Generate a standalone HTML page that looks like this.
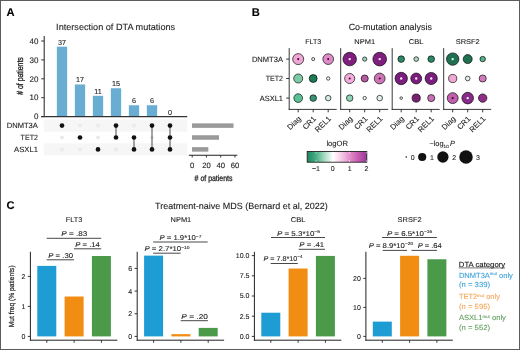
<!DOCTYPE html>
<html><head><meta charset="utf-8"><style>
html,body{margin:0;padding:0;background:#fff;}
#fig{position:relative;width:520px;height:350px;overflow:hidden;filter:blur(0.3px);}
svg{display:block;font-family:"Liberation Sans", sans-serif;text-rendering:geometricPrecision;}
text{stroke-width:0.1px;}
</style></head><body><div id="fig">
<svg width="520" height="350" viewBox="0 0 520 350">
<rect x="0" y="0" width="520" height="350" fill="#fff"/>
<text x="6.6" y="16.3" font-size="11.2" text-anchor="start" fill="#000" stroke="#000" font-weight="bold">A</text>
<text x="251.8" y="16.2" font-size="11.2" text-anchor="start" fill="#000" stroke="#000" font-weight="bold">B</text>
<text x="6.4" y="208.6" font-size="11.2" text-anchor="start" fill="#000" stroke="#000" font-weight="bold">C</text>
<text x="56.1" y="30.4" font-size="9" text-anchor="start" fill="#222" stroke="#222" textLength="119" lengthAdjust="spacingAndGlyphs">Intersection of DTA mutations</text>
<line x1="44.2" y1="36.0" x2="44.2" y2="116.8" stroke="#333" stroke-width="1.1"/>
<line x1="41.2" y1="116.6" x2="44.2" y2="116.6" stroke="#333" stroke-width="1"/>
<text x="38.4" y="119.3" font-size="8" text-anchor="end" fill="#222" stroke="#222">0</text>
<line x1="41.2" y1="97.69999999999999" x2="44.2" y2="97.69999999999999" stroke="#333" stroke-width="1"/>
<text x="38.4" y="100.39999999999999" font-size="8" text-anchor="end" fill="#222" stroke="#222">10</text>
<line x1="41.2" y1="78.8" x2="44.2" y2="78.8" stroke="#333" stroke-width="1"/>
<text x="38.4" y="81.5" font-size="8" text-anchor="end" fill="#222" stroke="#222">20</text>
<line x1="41.2" y1="59.9" x2="44.2" y2="59.9" stroke="#333" stroke-width="1"/>
<text x="38.4" y="62.6" font-size="8" text-anchor="end" fill="#222" stroke="#222">30</text>
<line x1="41.2" y1="41.0" x2="44.2" y2="41.0" stroke="#333" stroke-width="1"/>
<text x="38.4" y="43.7" font-size="8" text-anchor="end" fill="#222" stroke="#222">40</text>
<text transform="translate(23.0,76.0) rotate(-90)" font-size="9" text-anchor="middle" fill="#222" stroke="#222" textLength="37.6" lengthAdjust="spacingAndGlyphs" style="stroke-width:0.3px">#&#160;of patients</text>
<rect x="56.85" y="46.67" width="10.3" height="69.92999999999999" fill="#69ADD3"/>
<text x="62" y="44.67" font-size="7.2" text-anchor="middle" fill="#222" stroke="#222">37</text>
<rect x="74.85" y="84.47" width="10.3" height="32.129999999999995" fill="#69ADD3"/>
<text x="80" y="82.47" font-size="7.2" text-anchor="middle" fill="#222" stroke="#222">17</text>
<rect x="92.85" y="95.81" width="10.3" height="20.79" fill="#69ADD3"/>
<text x="98" y="93.81" font-size="7.2" text-anchor="middle" fill="#222" stroke="#222">11</text>
<rect x="110.85" y="88.25" width="10.3" height="28.349999999999998" fill="#69ADD3"/>
<text x="116" y="86.25" font-size="7.2" text-anchor="middle" fill="#222" stroke="#222">15</text>
<rect x="128.85" y="105.25999999999999" width="10.3" height="11.34" fill="#69ADD3"/>
<text x="134" y="103.25999999999999" font-size="7.2" text-anchor="middle" fill="#222" stroke="#222">6</text>
<rect x="146.85" y="105.25999999999999" width="10.3" height="11.34" fill="#69ADD3"/>
<text x="152" y="103.25999999999999" font-size="7.2" text-anchor="middle" fill="#222" stroke="#222">6</text>
<text x="170" y="114.6" font-size="7.2" text-anchor="middle" fill="#222" stroke="#222">0</text>
<line x1="41.2" y1="116.6" x2="187.2" y2="116.6" stroke="#333" stroke-width="1.3"/>
<rect x="43.8" y="119.6" width="143.4" height="12" fill="#F6F6F6"/>
<rect x="43.8" y="143.4" width="143.4" height="12" fill="#F6F6F6"/>
<text x="37.9" y="128.2" font-size="7.6" text-anchor="end" fill="#222" stroke="#222" textLength="31.2" lengthAdjust="spacingAndGlyphs">DNMT3A</text>
<text x="37.9" y="140.1" font-size="7.6" text-anchor="end" fill="#222" stroke="#222" textLength="17.3" lengthAdjust="spacingAndGlyphs">TET2</text>
<text x="37.9" y="152.0" font-size="7.6" text-anchor="end" fill="#222" stroke="#222" textLength="23.8" lengthAdjust="spacingAndGlyphs">ASXL1</text>
<circle cx="62" cy="137.5" r="2.0" fill="#EAEAEA" stroke="none" stroke-width="0"/>
<circle cx="62" cy="149.4" r="2.0" fill="#EAEAEA" stroke="none" stroke-width="0"/>
<circle cx="62" cy="125.6" r="2.35" fill="#111" stroke="none" stroke-width="0"/>
<circle cx="80" cy="125.6" r="2.0" fill="#EAEAEA" stroke="none" stroke-width="0"/>
<circle cx="80" cy="149.4" r="2.0" fill="#EAEAEA" stroke="none" stroke-width="0"/>
<circle cx="80" cy="137.5" r="2.35" fill="#111" stroke="none" stroke-width="0"/>
<circle cx="98" cy="125.6" r="2.0" fill="#EAEAEA" stroke="none" stroke-width="0"/>
<circle cx="98" cy="137.5" r="2.0" fill="#EAEAEA" stroke="none" stroke-width="0"/>
<circle cx="98" cy="149.4" r="2.35" fill="#111" stroke="none" stroke-width="0"/>
<circle cx="116" cy="149.4" r="2.0" fill="#EAEAEA" stroke="none" stroke-width="0"/>
<line x1="116" y1="125.6" x2="116" y2="137.5" stroke="#111" stroke-width="0.75"/>
<circle cx="116" cy="125.6" r="2.35" fill="#111" stroke="none" stroke-width="0"/>
<circle cx="116" cy="137.5" r="2.35" fill="#111" stroke="none" stroke-width="0"/>
<circle cx="134" cy="125.6" r="2.0" fill="#EAEAEA" stroke="none" stroke-width="0"/>
<line x1="134" y1="137.5" x2="134" y2="149.4" stroke="#111" stroke-width="0.75"/>
<circle cx="134" cy="137.5" r="2.35" fill="#111" stroke="none" stroke-width="0"/>
<circle cx="134" cy="149.4" r="2.35" fill="#111" stroke="none" stroke-width="0"/>
<circle cx="152" cy="137.5" r="2.0" fill="#EAEAEA" stroke="none" stroke-width="0"/>
<line x1="152" y1="125.6" x2="152" y2="149.4" stroke="#111" stroke-width="0.75"/>
<circle cx="152" cy="125.6" r="2.35" fill="#111" stroke="none" stroke-width="0"/>
<circle cx="152" cy="149.4" r="2.35" fill="#111" stroke="none" stroke-width="0"/>
<line x1="170" y1="125.6" x2="170" y2="149.4" stroke="#111" stroke-width="0.75"/>
<circle cx="170" cy="125.6" r="2.35" fill="#111" stroke="none" stroke-width="0"/>
<circle cx="170" cy="137.5" r="2.35" fill="#111" stroke="none" stroke-width="0"/>
<circle cx="170" cy="149.4" r="2.35" fill="#111" stroke="none" stroke-width="0"/>
<rect x="192.0" y="123.35" width="41.535" height="4.5" fill="#9A9A9A"/>
<rect x="192.0" y="135.25" width="26.979999999999997" height="4.5" fill="#9A9A9A"/>
<rect x="192.0" y="147.15" width="16.33" height="4.5" fill="#9A9A9A"/>
<line x1="188.8" y1="155.3" x2="237.3" y2="155.3" stroke="#222" stroke-width="1.1"/>
<line x1="192.2" y1="155.3" x2="192.2" y2="157.5" stroke="#222" stroke-width="0.9"/>
<text x="192.2" y="167.8" font-size="7.7" text-anchor="middle" fill="#222" stroke="#222">0</text>
<line x1="206.45" y1="155.3" x2="206.45" y2="157.5" stroke="#222" stroke-width="0.9"/>
<text x="206.45" y="167.8" font-size="7.7" text-anchor="middle" fill="#222" stroke="#222">20</text>
<line x1="220.7" y1="155.3" x2="220.7" y2="157.5" stroke="#222" stroke-width="0.9"/>
<text x="220.7" y="167.8" font-size="7.7" text-anchor="middle" fill="#222" stroke="#222">40</text>
<line x1="234.95" y1="155.3" x2="234.95" y2="157.5" stroke="#222" stroke-width="0.9"/>
<text x="234.95" y="167.8" font-size="7.7" text-anchor="middle" fill="#222" stroke="#222">60</text>
<text x="194.6" y="180.7" font-size="8.3" text-anchor="start" fill="#222" stroke="#222" textLength="37.9" lengthAdjust="spacingAndGlyphs" style="stroke-width:0.28px">#&#160;of patients</text>
<text x="348.7" y="30.4" font-size="9" text-anchor="start" fill="#222" stroke="#222" textLength="83.2" lengthAdjust="spacingAndGlyphs">Co-mutation analysis</text>
<text x="313.2" y="44.2" font-size="7" text-anchor="middle" fill="#222" stroke="#222" textLength="15.9" lengthAdjust="spacingAndGlyphs">FLT3</text>
<line x1="289.2" y1="48.1" x2="289.2" y2="109.9" stroke="#222" stroke-width="0.9"/>
<line x1="288.75" y1="109.4" x2="336.7" y2="109.4" stroke="#222" stroke-width="0.9"/>
<line x1="298.2" y1="109.4" x2="298.2" y2="112.3" stroke="#222" stroke-width="0.9"/>
<text transform="translate(301.4,119.3) rotate(-45)" font-size="7.6" text-anchor="end" fill="#222" stroke="#222">Diag</text>
<line x1="313.2" y1="109.4" x2="313.2" y2="112.3" stroke="#222" stroke-width="0.9"/>
<text transform="translate(316.4,119.3) rotate(-45)" font-size="7.6" text-anchor="end" fill="#222" stroke="#222">CR1</text>
<line x1="328.2" y1="109.4" x2="328.2" y2="112.3" stroke="#222" stroke-width="0.9"/>
<text transform="translate(331.4,119.3) rotate(-45)" font-size="7.6" text-anchor="end" fill="#222" stroke="#222">REL1</text>
<text x="364.7" y="44.2" font-size="7" text-anchor="middle" fill="#222" stroke="#222" textLength="20.7" lengthAdjust="spacingAndGlyphs">NPM1</text>
<line x1="340.7" y1="48.1" x2="340.7" y2="109.9" stroke="#222" stroke-width="0.9"/>
<line x1="340.25" y1="109.4" x2="388.2" y2="109.4" stroke="#222" stroke-width="0.9"/>
<line x1="349.7" y1="109.4" x2="349.7" y2="112.3" stroke="#222" stroke-width="0.9"/>
<text transform="translate(352.9,119.3) rotate(-45)" font-size="7.6" text-anchor="end" fill="#222" stroke="#222">Diag</text>
<line x1="364.7" y1="109.4" x2="364.7" y2="112.3" stroke="#222" stroke-width="0.9"/>
<text transform="translate(367.9,119.3) rotate(-45)" font-size="7.6" text-anchor="end" fill="#222" stroke="#222">CR1</text>
<line x1="379.7" y1="109.4" x2="379.7" y2="112.3" stroke="#222" stroke-width="0.9"/>
<text transform="translate(382.9,119.3) rotate(-45)" font-size="7.6" text-anchor="end" fill="#222" stroke="#222">REL1</text>
<text x="416.2" y="44.2" font-size="7" text-anchor="middle" fill="#222" stroke="#222" textLength="14.8" lengthAdjust="spacingAndGlyphs">CBL</text>
<line x1="392.2" y1="48.1" x2="392.2" y2="109.9" stroke="#222" stroke-width="0.9"/>
<line x1="391.75" y1="109.4" x2="439.7" y2="109.4" stroke="#222" stroke-width="0.9"/>
<line x1="401.2" y1="109.4" x2="401.2" y2="112.3" stroke="#222" stroke-width="0.9"/>
<text transform="translate(404.4,119.3) rotate(-45)" font-size="7.6" text-anchor="end" fill="#222" stroke="#222">Diag</text>
<line x1="416.2" y1="109.4" x2="416.2" y2="112.3" stroke="#222" stroke-width="0.9"/>
<text transform="translate(419.4,119.3) rotate(-45)" font-size="7.6" text-anchor="end" fill="#222" stroke="#222">CR1</text>
<line x1="431.2" y1="109.4" x2="431.2" y2="112.3" stroke="#222" stroke-width="0.9"/>
<text transform="translate(434.4,119.3) rotate(-45)" font-size="7.6" text-anchor="end" fill="#222" stroke="#222">REL1</text>
<text x="467.7" y="44.2" font-size="7" text-anchor="middle" fill="#222" stroke="#222" textLength="24" lengthAdjust="spacingAndGlyphs">SRSF2</text>
<line x1="443.7" y1="48.1" x2="443.7" y2="109.9" stroke="#222" stroke-width="0.9"/>
<line x1="443.25" y1="109.4" x2="491.2" y2="109.4" stroke="#222" stroke-width="0.9"/>
<line x1="452.7" y1="109.4" x2="452.7" y2="112.3" stroke="#222" stroke-width="0.9"/>
<text transform="translate(455.9,119.3) rotate(-45)" font-size="7.6" text-anchor="end" fill="#222" stroke="#222">Diag</text>
<line x1="467.7" y1="109.4" x2="467.7" y2="112.3" stroke="#222" stroke-width="0.9"/>
<text transform="translate(470.9,119.3) rotate(-45)" font-size="7.6" text-anchor="end" fill="#222" stroke="#222">CR1</text>
<line x1="482.7" y1="109.4" x2="482.7" y2="112.3" stroke="#222" stroke-width="0.9"/>
<text transform="translate(485.9,119.3) rotate(-45)" font-size="7.6" text-anchor="end" fill="#222" stroke="#222">REL1</text>
<line x1="286.2" y1="59.1" x2="289.2" y2="59.1" stroke="#222" stroke-width="0.9"/>
<text x="283.0" y="61.800000000000004" font-size="7.6" text-anchor="end" fill="#222" stroke="#222" textLength="31.1" lengthAdjust="spacingAndGlyphs">DNMT3A</text>
<line x1="286.2" y1="78.5" x2="289.2" y2="78.5" stroke="#222" stroke-width="0.9"/>
<text x="283.0" y="81.2" font-size="7.6" text-anchor="end" fill="#222" stroke="#222" textLength="17.3" lengthAdjust="spacingAndGlyphs">TET2</text>
<line x1="286.2" y1="98.1" x2="289.2" y2="98.1" stroke="#222" stroke-width="0.9"/>
<text x="283.0" y="100.8" font-size="7.6" text-anchor="end" fill="#222" stroke="#222" textLength="23.3" lengthAdjust="spacingAndGlyphs">ASXL1</text>
<circle cx="298.2" cy="59.1" r="5.5" fill="#EFA8D6" stroke="#000" stroke-opacity="0.72" stroke-width="0.9"/>
<circle cx="298.2" cy="59.1" r="1.05" fill="#4a0030" stroke="none" stroke-width="0"/>
<circle cx="313.2" cy="59.1" r="1.55" fill="#EEF6F2" stroke="#000" stroke-opacity="0.72" stroke-width="0.9"/>
<circle cx="328.2" cy="59.1" r="5.35" fill="#E08CC8" stroke="#000" stroke-opacity="0.72" stroke-width="0.9"/>
<circle cx="328.2" cy="59.1" r="1.05" fill="#4a0030" stroke="none" stroke-width="0"/>
<circle cx="298.2" cy="78.5" r="4.5" fill="#7DCBA5" stroke="#000" stroke-opacity="0.72" stroke-width="0.9"/>
<circle cx="313.2" cy="78.5" r="3.95" fill="#1F7A55" stroke="#000" stroke-opacity="0.72" stroke-width="0.9"/>
<circle cx="328.2" cy="78.5" r="1.7" fill="#F6FBF8" stroke="#000" stroke-opacity="0.72" stroke-width="0.9"/>
<circle cx="298.2" cy="98.1" r="4.35" fill="#5CC096" stroke="#000" stroke-opacity="0.72" stroke-width="0.9"/>
<circle cx="313.2" cy="98.1" r="3.3" fill="#389470" stroke="#000" stroke-opacity="0.72" stroke-width="0.9"/>
<circle cx="328.2" cy="98.1" r="2.75" fill="#D5EEE2" stroke="#000" stroke-opacity="0.72" stroke-width="0.9"/>
<circle cx="349.7" cy="59.1" r="6.75" fill="#7E1F7E" stroke="#000" stroke-opacity="0.72" stroke-width="0.9"/>
<circle cx="349.7" cy="59.1" r="1.2" fill="#FCE4F6" stroke="none" stroke-width="0"/>
<circle cx="364.7" cy="59.1" r="2.15" fill="#9CD2BA" stroke="#000" stroke-opacity="0.72" stroke-width="0.9"/>
<circle cx="379.7" cy="59.1" r="6.85" fill="#7E1F7E" stroke="#000" stroke-opacity="0.72" stroke-width="0.9"/>
<circle cx="379.7" cy="59.1" r="1.2" fill="#FCE4F6" stroke="none" stroke-width="0"/>
<circle cx="349.7" cy="78.5" r="5.05" fill="#F2AEDA" stroke="#000" stroke-opacity="0.72" stroke-width="0.9"/>
<circle cx="349.7" cy="78.5" r="1.05" fill="#4a0030" stroke="none" stroke-width="0"/>
<circle cx="364.7" cy="78.5" r="3.55" fill="#B45AA2" stroke="#000" stroke-opacity="0.72" stroke-width="0.9"/>
<circle cx="379.7" cy="78.5" r="5.3999999999999995" fill="#CC76B6" stroke="#000" stroke-opacity="0.72" stroke-width="0.9"/>
<circle cx="379.7" cy="78.5" r="1.05" fill="#4a0030" stroke="none" stroke-width="0"/>
<circle cx="349.7" cy="98.1" r="3.25" fill="#90D4B8" stroke="#000" stroke-opacity="0.72" stroke-width="0.9"/>
<circle cx="364.7" cy="98.1" r="1.7" fill="#F8FCFA" stroke="#000" stroke-opacity="0.72" stroke-width="0.9"/>
<circle cx="379.7" cy="98.1" r="2.8" fill="#E0F2EA" stroke="#000" stroke-opacity="0.72" stroke-width="0.9"/>
<circle cx="401.2" cy="59.1" r="3.3" fill="#2E8A66" stroke="#000" stroke-opacity="0.72" stroke-width="0.9"/>
<circle cx="416.2" cy="59.1" r="2.3499999999999996" fill="#A8D8C0" stroke="#000" stroke-opacity="0.72" stroke-width="0.9"/>
<circle cx="431.2" cy="59.1" r="3.3" fill="#2E8A66" stroke="#000" stroke-opacity="0.72" stroke-width="0.9"/>
<circle cx="401.2" cy="78.5" r="6.2" fill="#7A1E7E" stroke="#000" stroke-opacity="0.72" stroke-width="0.9"/>
<circle cx="401.2" cy="78.5" r="1.2" fill="#FCE4F6" stroke="none" stroke-width="0"/>
<circle cx="416.2" cy="78.5" r="5.45" fill="#7A1E7E" stroke="#000" stroke-opacity="0.72" stroke-width="0.9"/>
<circle cx="416.2" cy="78.5" r="1.2" fill="#FCE4F6" stroke="none" stroke-width="0"/>
<circle cx="431.2" cy="78.5" r="6.1" fill="#7A1E7E" stroke="#000" stroke-opacity="0.72" stroke-width="0.9"/>
<circle cx="431.2" cy="78.5" r="1.2" fill="#FCE4F6" stroke="none" stroke-width="0"/>
<circle cx="401.2" cy="98.1" r="1.3" fill="#F4FAF7" stroke="#000" stroke-opacity="0.72" stroke-width="0.9"/>
<circle cx="416.2" cy="98.1" r="4.1" fill="#7A2072" stroke="#000" stroke-opacity="0.72" stroke-width="0.9"/>
<circle cx="431.2" cy="98.1" r="3.55" fill="#C670B5" stroke="#000" stroke-opacity="0.72" stroke-width="0.9"/>
<circle cx="452.7" cy="59.1" r="6.2" fill="#1E7050" stroke="#000" stroke-opacity="0.72" stroke-width="0.9"/>
<circle cx="452.7" cy="59.1" r="1.2" fill="#D8FFF0" stroke="none" stroke-width="0"/>
<circle cx="467.7" cy="59.1" r="4.5" fill="#1E7050" stroke="#000" stroke-opacity="0.72" stroke-width="0.9"/>
<circle cx="482.7" cy="59.1" r="2.75" fill="#5BAE8A" stroke="#000" stroke-opacity="0.72" stroke-width="0.9"/>
<circle cx="452.7" cy="78.5" r="4.1" fill="#EFA8D6" stroke="#000" stroke-opacity="0.72" stroke-width="0.9"/>
<circle cx="467.7" cy="78.5" r="2.3499999999999996" fill="#E0F2E8" stroke="#000" stroke-opacity="0.72" stroke-width="0.9"/>
<circle cx="482.7" cy="78.5" r="3.55" fill="#D07CC0" stroke="#000" stroke-opacity="0.72" stroke-width="0.9"/>
<circle cx="452.7" cy="98.1" r="5.45" fill="#C060AC" stroke="#000" stroke-opacity="0.72" stroke-width="0.9"/>
<circle cx="452.7" cy="98.1" r="1.05" fill="#4a0030" stroke="none" stroke-width="0"/>
<circle cx="467.7" cy="98.1" r="5.8" fill="#8A2A88" stroke="#000" stroke-opacity="0.72" stroke-width="0.9"/>
<circle cx="467.7" cy="98.1" r="1.2" fill="#D8FFF0" stroke="none" stroke-width="0"/>
<circle cx="482.7" cy="98.1" r="4.2" fill="#8E2C86" stroke="#000" stroke-opacity="0.72" stroke-width="0.9"/>
<text x="326.4" y="146.4" font-size="7.6" text-anchor="start" fill="#222" stroke="#222" textLength="21.7" lengthAdjust="spacingAndGlyphs">logOR</text>
<defs><linearGradient id="lg" x1="0" x2="1" y1="0" y2="0">
<stop offset="0" stop-color="#1E8660"/>
<stop offset="0.15" stop-color="#4AAE86"/>
<stop offset="0.29" stop-color="#A8DCC2"/>
<stop offset="0.435" stop-color="#FFFFFF"/>
<stop offset="0.58" stop-color="#F5C8E4"/>
<stop offset="0.72" stop-color="#E08CC8"/>
<stop offset="0.86" stop-color="#C85AB0"/>
<stop offset="1" stop-color="#943A98"/>
</linearGradient></defs>
<rect x="307.2" y="151.5" width="59.6" height="10.7" fill="url(#lg)" stroke="#222" stroke-width="0.9"/>
<line x1="316.0" y1="151.9" x2="316.0" y2="153.4" stroke="#fff" stroke-width="0.6"/>
<line x1="316.0" y1="160.3" x2="316.0" y2="161.8" stroke="#fff" stroke-width="0.6"/>
<text x="316.0" y="171.3" font-size="7" text-anchor="middle" fill="#222" stroke="#222">&#8722;1</text>
<line x1="332.8" y1="151.9" x2="332.8" y2="153.4" stroke="#fff" stroke-width="0.6"/>
<line x1="332.8" y1="160.3" x2="332.8" y2="161.8" stroke="#fff" stroke-width="0.6"/>
<text x="332.8" y="171.3" font-size="7" text-anchor="middle" fill="#222" stroke="#222">0</text>
<line x1="349.6" y1="151.9" x2="349.6" y2="153.4" stroke="#fff" stroke-width="0.6"/>
<line x1="349.6" y1="160.3" x2="349.6" y2="161.8" stroke="#fff" stroke-width="0.6"/>
<text x="349.6" y="171.3" font-size="7" text-anchor="middle" fill="#222" stroke="#222">1</text>
<line x1="366.4" y1="151.9" x2="366.4" y2="153.4" stroke="#fff" stroke-width="0.6"/>
<line x1="366.4" y1="160.3" x2="366.4" y2="161.8" stroke="#fff" stroke-width="0.6"/>
<text x="366.4" y="171.3" font-size="7" text-anchor="middle" fill="#222" stroke="#222">2</text>
<text x="429.4" y="146" font-size="7.4" fill="#222" stroke="#222">&#8722;log<tspan font-size="4.6" dy="1.6">10</tspan><tspan dx="1.2" dy="-1.6" style="font-style:italic">P</tspan></text>
<circle cx="406.3" cy="157" r="0.8" fill="#111" stroke="none" stroke-width="0"/>
<text x="412.7" y="159.5" font-size="7" text-anchor="middle" fill="#222" stroke="#222">0</text>
<circle cx="422.2" cy="157" r="4.1" fill="#111" stroke="none" stroke-width="0"/>
<text x="432.0" y="159.5" font-size="7" text-anchor="middle" fill="#222" stroke="#222">1</text>
<circle cx="442.9" cy="157" r="5.65" fill="#111" stroke="none" stroke-width="0"/>
<text x="454.3" y="159.5" font-size="7" text-anchor="middle" fill="#222" stroke="#222">2</text>
<circle cx="466.0" cy="157" r="6.75" fill="#111" stroke="none" stroke-width="0"/>
<text x="477.9" y="159.5" font-size="7" text-anchor="middle" fill="#222" stroke="#222">3</text>
<text x="155" y="208.8" font-size="9" text-anchor="start" fill="#222" stroke="#222" textLength="172.7" lengthAdjust="spacingAndGlyphs">Treatment-naive MDS (Bernard et al, 2022)</text>
<text x="74.1" y="222.0" font-size="7" text-anchor="middle" fill="#222" stroke="#222" textLength="16.5" lengthAdjust="spacingAndGlyphs">FLT3</text>
<line x1="30.4" y1="251.8" x2="30.4" y2="340.7" stroke="#222" stroke-width="1"/>
<line x1="29.9" y1="340.2" x2="117.30000000000001" y2="340.2" stroke="#222" stroke-width="1"/>
<rect x="37.3" y="265.9" width="19" height="70.5" fill="#1E9CD4"/>
<line x1="46.8" y1="340.2" x2="46.8" y2="342.8" stroke="#222" stroke-width="0.9"/>
<rect x="64.6" y="296.5" width="19" height="39.900000000000006" fill="#F18D12"/>
<line x1="74.1" y1="340.2" x2="74.1" y2="342.8" stroke="#222" stroke-width="0.9"/>
<rect x="91.9" y="255.99999999999997" width="19" height="80.4" fill="#4A9A4A"/>
<line x1="101.4" y1="340.2" x2="101.4" y2="342.8" stroke="#222" stroke-width="0.9"/>
<line x1="27.799999999999997" y1="336.4" x2="30.4" y2="336.4" stroke="#222" stroke-width="0.9"/>
<text x="25.4" y="338.84999999999997" font-size="7" text-anchor="end" fill="#222" stroke="#222">0</text>
<line x1="27.799999999999997" y1="306.4" x2="30.4" y2="306.4" stroke="#222" stroke-width="0.9"/>
<text x="25.4" y="308.84999999999997" font-size="7" text-anchor="end" fill="#222" stroke="#222">1</text>
<line x1="27.799999999999997" y1="276.4" x2="30.4" y2="276.4" stroke="#222" stroke-width="0.9"/>
<text x="25.4" y="278.84999999999997" font-size="7" text-anchor="end" fill="#222" stroke="#222">2</text>
<text x="180.89999999999998" y="222.0" font-size="7" text-anchor="middle" fill="#222" stroke="#222" textLength="20.7" lengthAdjust="spacingAndGlyphs">NPM1</text>
<line x1="137.2" y1="251.8" x2="137.2" y2="340.7" stroke="#222" stroke-width="1"/>
<line x1="136.7" y1="340.2" x2="224.1" y2="340.2" stroke="#222" stroke-width="1"/>
<rect x="144.1" y="255.6171" width="19" height="80.7829" fill="#1E9CD4"/>
<line x1="153.6" y1="340.2" x2="153.6" y2="342.8" stroke="#222" stroke-width="0.9"/>
<rect x="171.4" y="334.13399999999996" width="19" height="2.266" fill="#F18D12"/>
<line x1="180.9" y1="340.2" x2="180.9" y2="342.8" stroke="#222" stroke-width="0.9"/>
<rect x="198.7" y="327.9025" width="19" height="8.4975" fill="#4A9A4A"/>
<line x1="208.2" y1="340.2" x2="208.2" y2="342.8" stroke="#222" stroke-width="0.9"/>
<line x1="134.6" y1="336.4" x2="137.2" y2="336.4" stroke="#222" stroke-width="0.9"/>
<text x="132.2" y="338.84999999999997" font-size="7" text-anchor="end" fill="#222" stroke="#222">0</text>
<line x1="134.6" y1="313.73999999999995" x2="137.2" y2="313.73999999999995" stroke="#222" stroke-width="0.9"/>
<text x="132.2" y="316.18999999999994" font-size="7" text-anchor="end" fill="#222" stroke="#222">2</text>
<line x1="134.6" y1="291.08" x2="137.2" y2="291.08" stroke="#222" stroke-width="0.9"/>
<text x="132.2" y="293.53" font-size="7" text-anchor="end" fill="#222" stroke="#222">4</text>
<line x1="134.6" y1="268.41999999999996" x2="137.2" y2="268.41999999999996" stroke="#222" stroke-width="0.9"/>
<text x="132.2" y="270.86999999999995" font-size="7" text-anchor="end" fill="#222" stroke="#222">6</text>
<text x="298.1" y="222.0" font-size="7" text-anchor="middle" fill="#222" stroke="#222" textLength="14.8" lengthAdjust="spacingAndGlyphs">CBL</text>
<line x1="254.4" y1="251.8" x2="254.4" y2="340.7" stroke="#222" stroke-width="1"/>
<line x1="253.9" y1="340.2" x2="341.3" y2="340.2" stroke="#222" stroke-width="1"/>
<rect x="261.3" y="312.7256" width="19" height="23.674400000000002" fill="#1E9CD4"/>
<line x1="270.8" y1="340.2" x2="270.8" y2="342.8" stroke="#222" stroke-width="0.9"/>
<rect x="288.6" y="268.52799999999996" width="19" height="67.872" fill="#F18D12"/>
<line x1="298.1" y1="340.2" x2="298.1" y2="342.8" stroke="#222" stroke-width="0.9"/>
<rect x="315.90000000000003" y="255.92319999999995" width="19" height="80.47680000000001" fill="#4A9A4A"/>
<line x1="325.40000000000003" y1="340.2" x2="325.40000000000003" y2="342.8" stroke="#222" stroke-width="0.9"/>
<line x1="251.8" y1="336.4" x2="254.4" y2="336.4" stroke="#222" stroke-width="0.9"/>
<text x="249.4" y="338.84999999999997" font-size="7" text-anchor="end" fill="#222" stroke="#222">0.0</text>
<line x1="251.8" y1="316.2" x2="254.4" y2="316.2" stroke="#222" stroke-width="0.9"/>
<text x="249.4" y="318.65" font-size="7" text-anchor="end" fill="#222" stroke="#222">2.5</text>
<line x1="251.8" y1="296.0" x2="254.4" y2="296.0" stroke="#222" stroke-width="0.9"/>
<text x="249.4" y="298.45" font-size="7" text-anchor="end" fill="#222" stroke="#222">5.0</text>
<line x1="251.8" y1="275.79999999999995" x2="254.4" y2="275.79999999999995" stroke="#222" stroke-width="0.9"/>
<text x="249.4" y="278.24999999999994" font-size="7" text-anchor="end" fill="#222" stroke="#222">7.5</text>
<line x1="251.8" y1="255.59999999999997" x2="254.4" y2="255.59999999999997" stroke="#222" stroke-width="0.9"/>
<text x="249.4" y="258.04999999999995" font-size="7" text-anchor="end" fill="#222" stroke="#222">10.0</text>
<text x="409.59999999999997" y="222.0" font-size="7" text-anchor="middle" fill="#222" stroke="#222" textLength="24" lengthAdjust="spacingAndGlyphs">SRSF2</text>
<line x1="365.9" y1="251.8" x2="365.9" y2="340.7" stroke="#222" stroke-width="1"/>
<line x1="365.4" y1="340.2" x2="452.79999999999995" y2="340.2" stroke="#222" stroke-width="1"/>
<rect x="372.79999999999995" y="321.60999999999996" width="19" height="14.79" fill="#1E9CD4"/>
<line x1="382.29999999999995" y1="340.2" x2="382.29999999999995" y2="342.8" stroke="#222" stroke-width="0.9"/>
<rect x="400.09999999999997" y="255.77999999999997" width="19" height="80.62" fill="#F18D12"/>
<line x1="409.59999999999997" y1="340.2" x2="409.59999999999997" y2="342.8" stroke="#222" stroke-width="0.9"/>
<rect x="427.4" y="259.26" width="19" height="77.14" fill="#4A9A4A"/>
<line x1="436.9" y1="340.2" x2="436.9" y2="342.8" stroke="#222" stroke-width="0.9"/>
<line x1="363.29999999999995" y1="336.4" x2="365.9" y2="336.4" stroke="#222" stroke-width="0.9"/>
<text x="360.9" y="338.84999999999997" font-size="7" text-anchor="end" fill="#222" stroke="#222">0</text>
<line x1="363.29999999999995" y1="307.4" x2="365.9" y2="307.4" stroke="#222" stroke-width="0.9"/>
<text x="360.9" y="309.84999999999997" font-size="7" text-anchor="end" fill="#222" stroke="#222">10</text>
<line x1="363.29999999999995" y1="278.4" x2="365.9" y2="278.4" stroke="#222" stroke-width="0.9"/>
<text x="360.9" y="280.84999999999997" font-size="7" text-anchor="end" fill="#222" stroke="#222">20</text>
<text transform="translate(13.9,296.3) rotate(-90)" font-size="7.4" text-anchor="middle" fill="#222" stroke="#222" textLength="62" lengthAdjust="spacingAndGlyphs" style="stroke-width:0.2px">Mut freq (% patients)</text>
<line x1="46.7" y1="238.3" x2="101.2" y2="238.3" stroke="#333" stroke-width="0.9"/>
<text x="61.3" y="236.0" font-size="7" fill="#222" stroke="#222" textLength="26" lengthAdjust="spacingAndGlyphs"><tspan style="font-style:italic">P</tspan> = .83</text>
<line x1="73.9" y1="248.8" x2="101.2" y2="248.8" stroke="#333" stroke-width="0.9"/>
<text x="75.3" y="246.8" font-size="7" fill="#222" stroke="#222" textLength="24.6" lengthAdjust="spacingAndGlyphs"><tspan style="font-style:italic">P</tspan> = .14</text>
<line x1="46.7" y1="259.8" x2="74.0" y2="259.8" stroke="#333" stroke-width="0.9"/>
<text x="48.3" y="257.6" font-size="7" fill="#222" stroke="#222" textLength="24.7" lengthAdjust="spacingAndGlyphs"><tspan style="font-style:italic">P</tspan> = .30</text>
<line x1="153.2" y1="242.0" x2="207.7" y2="242.0" stroke="#333" stroke-width="0.9"/>
<text x="159.4" y="240.2" font-size="7" fill="#222" stroke="#222" textLength="42" lengthAdjust="spacingAndGlyphs"><tspan style="font-style:italic">P</tspan> = 1.9*10<tspan font-size="4.4" dy="-2.6">&#8722;7</tspan></text>
<line x1="153.2" y1="253.2" x2="180.6" y2="253.2" stroke="#333" stroke-width="0.9"/>
<text x="144.5" y="251.4" font-size="7" fill="#222" stroke="#222" textLength="45" lengthAdjust="spacingAndGlyphs"><tspan style="font-style:italic">P</tspan> = 2.7*10<tspan font-size="4.4" dy="-2.6">&#8722;10</tspan></text>
<line x1="180.7" y1="320.7" x2="207.9" y2="320.7" stroke="#333" stroke-width="0.9"/>
<text x="181.3" y="318.6" font-size="7" fill="#222" stroke="#222" textLength="26.6" lengthAdjust="spacingAndGlyphs"><tspan style="font-style:italic">P</tspan> = .20</text>
<line x1="271.0" y1="237.5" x2="325.0" y2="237.5" stroke="#333" stroke-width="0.9"/>
<text x="277.0" y="235.5" font-size="7" fill="#222" stroke="#222" textLength="43" lengthAdjust="spacingAndGlyphs"><tspan style="font-style:italic">P</tspan> = 5.3*10<tspan font-size="4.4" dy="-2.6">&#8722;5</tspan></text>
<line x1="298.7" y1="249.3" x2="325.0" y2="249.3" stroke="#333" stroke-width="0.9"/>
<text x="299.3" y="246.8" font-size="7" fill="#222" stroke="#222" textLength="24.9" lengthAdjust="spacingAndGlyphs"><tspan style="font-style:italic">P</tspan> = .41</text>
<line x1="270.7" y1="263.5" x2="297.8" y2="263.5" stroke="#333" stroke-width="0.9"/>
<text x="263.6" y="260.6" font-size="7" fill="#222" stroke="#222" textLength="38.8" lengthAdjust="spacingAndGlyphs"><tspan style="font-style:italic">P</tspan> = 7.8*10<tspan font-size="4.4" dy="-2.6">&#8722;4</tspan></text>
<line x1="382.1" y1="237.5" x2="436.9" y2="237.5" stroke="#333" stroke-width="0.9"/>
<text x="386.9" y="235.6" font-size="7" fill="#222" stroke="#222" textLength="45.4" lengthAdjust="spacingAndGlyphs"><tspan style="font-style:italic">P</tspan> = 6.5*10<tspan font-size="4.4" dy="-2.6">&#8722;16</tspan></text>
<line x1="382.7" y1="250.4" x2="407.1" y2="250.4" stroke="#333" stroke-width="0.9"/>
<text x="368.7" y="247.6" font-size="7" fill="#222" stroke="#222" textLength="44.4" lengthAdjust="spacingAndGlyphs"><tspan style="font-style:italic">P</tspan> = 8.9*10<tspan font-size="4.4" dy="-2.6">&#8722;20</tspan></text>
<line x1="411.5" y1="250.4" x2="436.9" y2="250.4" stroke="#333" stroke-width="0.9"/>
<text x="417.7" y="247.6" font-size="7" fill="#222" stroke="#222" textLength="24" lengthAdjust="spacingAndGlyphs"><tspan style="font-style:italic">P</tspan> = .64</text>
<text x="458.8" y="266.6" font-size="7.4" text-anchor="start" fill="#111" stroke="#111" textLength="46.4" lengthAdjust="spacingAndGlyphs">DTA category</text>
<line x1="458.8" y1="267.9" x2="505.2" y2="267.9" stroke="#111" stroke-width="0.6"/>
<text x="458.9" y="277.9" font-size="7.4" fill="#3AA0D8" stroke="#3AA0D8" textLength="54.0" lengthAdjust="spacingAndGlyphs">DNMT3A<tspan font-size="4.2" dy="-2.8">mut</tspan><tspan dy="2.8"> only</tspan></text>
<text x="458.9" y="287.3" font-size="7.4" text-anchor="start" fill="#3AA0D8" stroke="#3AA0D8" textLength="31.2" lengthAdjust="spacingAndGlyphs">(n = 339)</text>
<text x="458.9" y="299.3" font-size="7.4" fill="#F4A658" stroke="#F4A658" textLength="41.0" lengthAdjust="spacingAndGlyphs">TET2<tspan font-size="4.2" dy="-2.8">mut</tspan><tspan dy="2.8"> only</tspan></text>
<text x="458.9" y="309.3" font-size="7.4" text-anchor="start" fill="#F4A658" stroke="#F4A658" textLength="31.2" lengthAdjust="spacingAndGlyphs">(n = 595)</text>
<text x="458.9" y="320.4" font-size="7.4" fill="#5E9E5C" stroke="#5E9E5C" textLength="47.0" lengthAdjust="spacingAndGlyphs">ASXL1<tspan font-size="4.2" dy="-2.8">mut</tspan><tspan dy="2.8"> only</tspan></text>
<text x="458.9" y="330.3" font-size="7.4" text-anchor="start" fill="#5E9E5C" stroke="#5E9E5C" textLength="31.2" lengthAdjust="spacingAndGlyphs">(n = 552)</text>
<rect x="0.5" y="0.5" width="519" height="349" fill="none" stroke="#5c5c5c" stroke-width="1"/>
</svg></div></body></html>
